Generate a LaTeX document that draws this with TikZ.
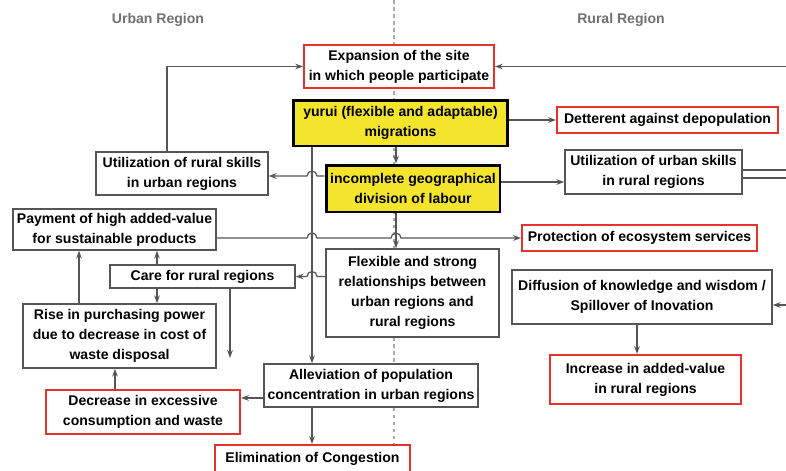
\documentclass[tikz,border=0pt]{standalone}
\usepackage{fontspec}
\setmainfont{Liberation Sans}
\usetikzlibrary{arrows.meta,
		calc,
		positioning}
\definecolor{boxline}{HTML}{555555}
\definecolor{keyred}{HTML}{E5322D}
\definecolor{keyyellow}{HTML}{F3E52B}
\definecolor{regiongray}{HTML}{707070}

\begin{document}
\begin{tikzpicture}[
		x=0.02cm, y=-0.02cm,
		>={Stealth[length=4.5pt,width=3.2pt]},
		font=\fontsize{8}{11.3}\selectfont\bfseries,
		box/.style={draw=boxline, line width=0.8pt, fill=white, align=center, inner sep=2pt},
		redbox/.style={box, draw=keyred, line width=1.1pt},
		keybox/.style={box, draw=black, line width=1.7pt, fill=keyyellow},
		link/.style={->, draw=boxline, line width=0.7pt},
		region/.style={text=regiongray}
	]
	\useasboundingbox (0,0) rectangle (786,470);
	% divider between the two regions
	\draw [regiongray!60, dash pattern=on 2pt off 2pt, line width=0.6pt] (394,0) -- (394,470);
	\node [region] (urbanlbl) at (158,20) {Urban Region};
	\node [region] (rurallbl) at (621,20) {Rural Region};

	\node [redbox, minimum width=3.8cm, minimum height=0.86cm] (expand) at (399,66.5) {Expansion of the site\\in which people participate};
	\node [keybox, minimum width=4.3cm, minimum height=0.92cm] (yurui) at (400.5,123) {yurui (flexible and adaptable)\\migrations};
	\node [redbox, minimum width=4.42cm, minimum height=0.52cm] (deter) at (667.5,120) {Detterent against depopulation};
	\node [box, minimum width=3.44cm, minimum height=0.86cm] (ruralskill) at (182,173.5) {Utilization of rural skills\\in urban regions};
	\node [keybox, minimum width=3.48cm, minimum height=0.94cm] (labour) at (413,188.5) {incomplete geographical\\division of labour};
	\node [box, minimum width=3.54cm, minimum height=0.88cm] (urbanskill) at (653.5,172) {Utilization of urban skills\\in rural regions};
	\node [box, minimum width=4.06cm, minimum height=0.82cm] (pay) at (114.5,229.5) {Payment of high added-value\\for sustainable products};
	\node [redbox, minimum width=4.7cm, minimum height=0.52cm] (protect) at (639.5,238) {Protection of ecosystem services};
	\node [box, minimum width=3.7cm, minimum height=0.46cm] (care) at (202.5,276.5) {Care for rural regions};
	\node [box, minimum width=3.46cm, minimum height=1.76cm] (relate) at (412.5,293) {Flexible and strong\\relationships between\\urban regions and\\rural regions};
	\node [box, minimum width=5.2cm, minimum height=1.08cm] (diffuse) at (642,297) {Diffusion of knowledge and wisdom /\\Spillover of Inovation};
	\node [box, minimum width=3.86cm, minimum height=1.28cm] (rise) at (119.5,336) {Rise in purchasing power\\due to decrease in cost of\\waste disposal};
	\node [box, minimum width=4.24cm, minimum height=0.86cm] (allev) at (371,385.5) {Alleviation of population\\concentration in urban regions};
	\node [redbox, minimum width=3.82cm, minimum height=0.98cm] (increase) at (645.5,379.5) {Increase in added-value\\in rural regions};
	\node [redbox, minimum width=3.88cm, minimum height=0.88cm] (decrease) at (143,412) {Decrease in excessive\\consumption and waste};
	\node [redbox, minimum width=3.9cm, minimum height=0.56cm] (congest) at (312.5,459) {Elimination of Congestion};

	% columns and levels the connectors run on
	\coordinate (trunk) at (312,146);
	\coordinate (mid) at (396,146);
	\coordinate (carecol) at (157,0);
	\coordinate (risecol) at (79,0);
	\coordinate (wastecol) at (115,0);
	\coordinate (diffcol) at (637,0);
	\coordinate (drop) at (230,358);
	\coordinate (eastin) at (786,66.5);
	\coordinate (edgeu) at (786,170);
	\coordinate (edgel) at (786,178);
	\coordinate (eastdiff) at (786,305);
	\coordinate (ruralin) at ([yshift=-0.05cm]ruralskill.east);
	\coordinate (urbanout) at ([yshift=0.13cm]labour.east);
	\coordinate (allevout) at ([yshift=-0.25cm]allev.west);

	\draw [link] ([xshift=-0.3cm]ruralskill.north) |- (expand.west);
	\draw [link] (eastin) -- (expand.east);
	\draw [link] (deter.west -| yurui.east) -- (deter.west);
	\draw [link] (yurui.south -| mid) -- (labour.north -| mid);
	\draw [link] (yurui.south -| trunk) -- (allev.north -| trunk);
	\draw [link] (allev.south -| trunk) -- (congest.north -| trunk);
	\draw [link] (labour.west |- ruralin) -- ($(trunk |- ruralin)+(5,0)$) arc [start angle=0, end angle=180, radius=0.1cm] -- (ruralin);
	\draw [link] (urbanout) -- (urbanout -| urbanskill.west);
	\draw [boxline, line width=0.7pt] (edgeu -| urbanskill.east) -- (edgeu);
	\draw [boxline, line width=0.7pt] (edgel -| urbanskill.east) -- (edgel);
	\draw [link] (pay.east |- protect.west) -- ($(trunk |- protect.west)+(-5,0)$) arc [start angle=180, end angle=0, radius=0.1cm]
		-- ($(mid |- protect.west)+(-5,0)$) arc [start angle=180, end angle=0, radius=0.1cm] -- (protect.west);
	\draw [link] (labour.south -| mid) -- (relate.north -| mid);
	\draw [link] (relate.west |- care.east) -- ($(trunk |- care.east)+(5,0)$) arc [start angle=0, end angle=180, radius=0.1cm] -- (care.east);
	\draw [link] (care.north -| carecol) -- (pay.south -| carecol);
	\draw [link] (care.south -| carecol) -- (rise.north -| carecol);
	\draw [link] (rise.north -| risecol) -- (pay.south -| risecol);
	\draw [link] (care.south -| drop) -- (drop);
	\draw [link] (decrease.north -| wastecol) -- (rise.south -| wastecol);
	\draw [link] (allevout) -- (allevout -| decrease.east);
	\draw [link] (diffuse.south -| diffcol) -- (increase.north -| diffcol);
	\draw [link] (eastdiff) -- (eastdiff -| diffuse.east);
\end{tikzpicture}
\end{document}
